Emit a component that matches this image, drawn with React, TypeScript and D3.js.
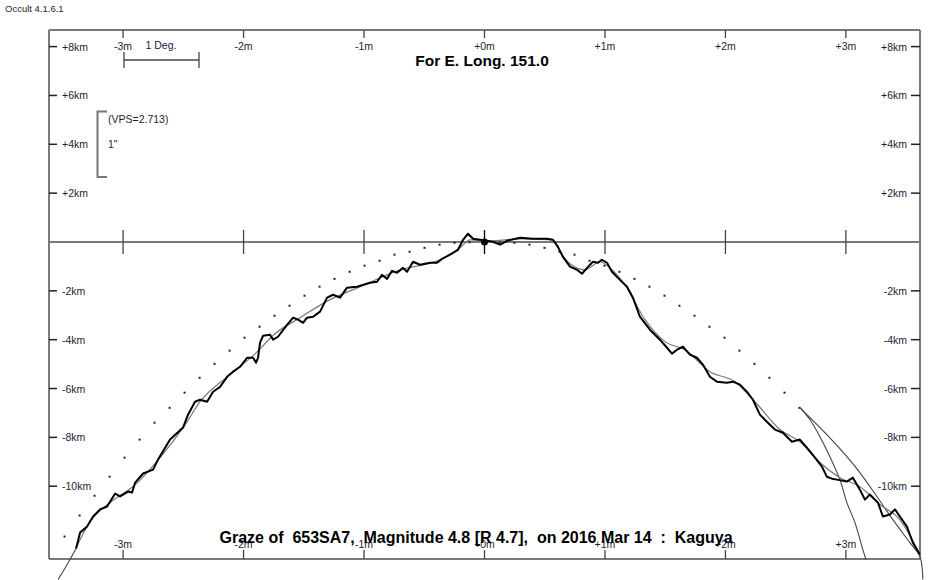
import React from 'react';
import * as d3 from 'd3';

const W = 950;
const H = 580;
const FONT = '"Liberation Sans", Arial, sans-serif';
const LABEL = '#1c1c3a';

const minuteTicks = [-3, -2, -1, 0, 1, 2, 3];
const minuteLabels = ['-3m', '-2m', '-1m', '+0m', '+1m', '+2m', '+3m'];
const kmTicks = [8, 6, 4, 2, -2, -4, -6, -8, -10];
const kmLabels = ['+8km', '+6km', '+4km', '+2km', '-2km', '-4km', '-6km', '-8km', '-10km'];

// observed limb profile (minutes from conjunction, km north/south)
const profileT = [
  -3.39, -3.357, -3.299, -3.249, -3.191, -3.133, -3.066, -3.025, -2.959, -2.925, -2.9, -2.834, -2.751, -2.71,
  -2.61, -2.502, -2.461, -2.403, -2.361, -2.303, -2.253, -2.195, -2.137, -2.087, -2.029, -1.971, -1.921, -1.896,
  -1.88, -1.863, -1.838, -1.78, -1.755, -1.714, -1.639, -1.589, -1.548, -1.506, -1.473, -1.423, -1.365, -1.307,
  -1.257, -1.199, -1.141, -1.058, -0.95, -0.892, -0.851, -0.809, -0.768, -0.726, -0.676, -0.643, -0.593, -0.535,
  -0.452, -0.394, -0.353, -0.286, -0.22, -0.178, -0.137, -0.095, -0.037, 0.071, 0.129, 0.187, 0.295, 0.402,
  0.519, 0.568, 0.61, 0.651, 0.71, 0.768, 0.809, 0.851, 0.9, 0.942, 0.975, 1.017, 1.058, 1.124, 1.183, 1.232,
  1.29, 1.373, 1.456, 1.515, 1.556, 1.598, 1.647, 1.705, 1.763, 1.813, 1.871, 1.929, 2.012, 2.062, 2.12, 2.178,
  2.228, 2.286, 2.344, 2.411, 2.477, 2.552, 2.618, 2.676, 2.743, 2.801, 2.842, 2.884, 2.925, 3.008, 3.058, 3.116,
  3.158, 3.199, 3.266, 3.307, 3.365, 3.407, 3.448, 3.506, 3.556, 3.614,
];
const profileKm = [
  -12.55, -11.9, -11.65, -11.24, -10.95, -10.83, -10.3, -10.42, -10.22, -10.26, -9.85, -9.48, -9.32, -8.91,
  -8.09, -7.6, -7.07, -6.54, -6.46, -6.54, -6.13, -5.93, -5.52, -5.31, -5.11, -4.74, -4.74, -4.94,
  -4.74, -4.12, -3.84, -3.8, -4.0, -3.88, -3.39, -3.1, -3.18, -3.31, -3.1, -3.06, -2.85, -2.28,
  -2.16, -2.28, -1.87, -1.83, -1.67, -1.63, -1.34, -1.51, -1.18, -1.26, -1.06, -1.22, -0.81, -0.93,
  -0.85, -0.85, -0.69, -0.52, -0.32, 0.09, 0.34, 0.13, 0.09, 0.01, -0.11, 0.05, 0.17, 0.13,
  0.13, 0.09, -0.2, -0.61, -1.01, -1.14, -1.3, -1.06, -0.81, -0.85, -0.73, -0.85, -1.22, -1.55, -1.83, -2.28,
  -3.06, -3.59, -4.0, -4.33, -4.57, -4.41, -4.29, -4.61, -4.74, -5.02, -5.52, -5.72, -5.76, -5.72, -5.84, -6.13,
  -6.46, -7.07, -7.36, -7.68, -7.81, -8.18, -8.09, -8.42, -8.83, -9.2, -9.61, -9.69, -9.73, -9.81, -9.65, -10.14,
  -10.55, -10.34, -10.67, -11.24, -11.16, -10.95, -11.24, -11.65, -12.31, -12.8,
];

// smoothed mean profile
const meanT = [
  -3.398, -3.274, -3.108, -2.9, -2.693, -2.485, -2.361, -2.112, -1.905, -1.739, -1.531, -1.282, -1.033, -0.701,
  -0.369, -0.203, -0.12, 0.046, 0.295, 0.568, 0.627, 0.71, 0.834, 0.959, 1.041, 1.166, 1.332, 1.498, 1.664,
  1.871, 2.079, 2.245, 2.452, 2.618, 2.784, 2.95, 3.116, 3.282, 3.448, 3.614,
];
const meanKm = [
  -12.59, -11.45, -10.67, -9.94, -8.83, -7.48, -6.54, -5.43, -4.58, -3.76, -3.1, -2.36, -1.83, -1.14,
  -0.73, -0.24, 0.09, 0.05, 0.13, 0.09, -0.4, -0.89, -1.14, -0.81, -1.06, -1.75, -3.18, -4.08, -4.41,
  -5.31, -5.72, -6.54, -7.68, -8.18, -9.03, -9.65, -10.02, -10.75, -11.37, -12.8,
];

// mean limb (dotted)
const dotT = [
  -3.486, -3.361, -3.237, -3.112, -2.988, -2.863, -2.739, -2.614, -2.49, -2.365, -2.241, -2.116, -1.992, -1.867,
  -1.743, -1.618, -1.494, -1.369, -1.245, -1.12, -0.996, -0.871, -0.747, -0.622, -0.498, -0.373, -0.249, -0.125,
  0.125, 0.249, 0.373, 0.498, 0.622, 0.747, 0.871, 0.996, 1.12, 1.245, 1.369, 1.494, 1.618, 1.743, 1.867,
  1.992, 2.116, 2.241, 2.365, 2.49, 2.614,
];
const dotKm = [
  -12.06, -11.2, -10.39, -9.61, -8.83, -8.09, -7.4, -6.79, -6.17, -5.56, -4.99, -4.45, -3.92, -3.47,
  -3.02, -2.61, -2.2, -1.83, -1.51, -1.22, -0.97, -0.77, -0.52, -0.4, -0.24, -0.11, -0.03, -0.01,
  -0.01, -0.03, -0.11, -0.24, -0.4, -0.52, -0.77, -0.97, -1.22, -1.51, -1.83, -2.2, -2.61, -3.02, -3.47,
  -3.92, -4.45, -4.99, -5.56, -6.17, -6.79,
];

// limit curves
const limitAT = [2.618, 2.701, 2.784, 2.867, 2.95, 3.008, 3.075, 3.133, 3.166];
const limitAKm = [-6.78, -7.27, -7.97, -8.79, -9.73, -10.67, -11.49, -12.47, -13.0];
const limitBT = [2.618, 2.842, 3.008, 3.116, 3.257, 3.39, 3.531, 3.614, 3.639];
const limitBKm = [-6.78, -7.89, -8.79, -9.44, -10.42, -11.37, -12.31, -12.88, -13.82];
const limitCT = [-3.39, -3.456, -3.539];
const limitCKm = [-12.55, -13.13, -13.82];

const x = d3.scaleLinear().domain([-3.615, 3.615]).range([49, 920]);
const y = d3.scaleLinear().domain([-12.98, 8.68]).range([559, 30]);

const pts = (t: number[], k: number[]) => t.map((v, i) => [v, k[i]] as [number, number]);
const line = d3.line<[number, number]>().x(d => x(d[0])).y(d => y(d[1]));
const smooth = d3.line<[number, number]>().x(d => x(d[0])).y(d => y(d[1])).curve(d3.curveMonotoneX);
const curve = d3.line<[number, number]>().x(d => x(d[0])).y(d => y(d[1])).curve(d3.curveCatmullRom);

export default function App() {
  const [x0, x1] = x.range();
  const [y0, y1] = [y(8.68), y(-12.98)];
  const yz = y(0);
  return (
    <div style={{ position: 'absolute', left: 0, top: 0 }}>
      <svg width={W} height={H} style={{ display: 'block', background: '#fff', fontFamily: FONT }}>
        <text x={5} y={12} fontSize={9.5} fill="#223">Occult 4.1.6.1</text>

        {/* frame */}
        <g stroke="#7a7a7a" strokeWidth={2} fill="none">
          <line x1={x0} y1={y0} x2={x1} y2={y0} />
          <line x1={x0} y1={y0} x2={x0} y2={y1} />
          <line x1={x1} y1={y0} x2={x1} y2={y1} />
          <line x1={x0} y1={y1} x2={x1} y2={y1} />
          <line x1={x0} y1={yz} x2={x1} y2={yz} />
        </g>

        {/* minute ticks */}
        <g stroke="#444" strokeWidth={1.3}>
          {minuteTicks.map(m => (
            <g key={m}>
              <line x1={x(m)} x2={x(m)} y1={y0} y2={y0 + 8} />
              <line x1={x(m)} x2={x(m)} y1={y1} y2={y1 - 9} />
              {m !== 0 && <line x1={x(m)} x2={x(m)} y1={yz - 12} y2={yz + 12} />}
            </g>
          ))}
        </g>
        {/* km ticks */}
        <g stroke="#222" strokeWidth={1.5}>
          {kmTicks.map(k => (
            <g key={k}>
              <line x1={x0} x2={x0 + 8} y1={y(k)} y2={y(k)} />
              <line x1={x1 - 9} x2={x1} y1={y(k)} y2={y(k)} />
            </g>
          ))}
        </g>

        <g fontSize={10.5} fill={LABEL}>
          {minuteTicks.map((m, i) => (
            <text key={'t' + m} x={x(m)} y={y0 + 20} textAnchor="middle">{minuteLabels[i]}</text>
          ))}
          {minuteTicks.map((m, i) => (
            <text key={'b' + m} x={x(m)} y={y1 - 11} textAnchor="middle">{minuteLabels[i]}</text>
          ))}
          {kmTicks.map((k, i) => (
            <text key={'l' + k} x={x0 + 13} y={y(k) + 4}>{kmLabels[i]}</text>
          ))}
          {kmTicks.map((k, i) => (
            <text key={'r' + k} x={x1 - 13} y={y(k) + 4} textAnchor="end">{kmLabels[i]}</text>
          ))}
        </g>

        {/* 1 degree scale */}
        <g stroke="#444" strokeWidth={1.3}>
          <line x1={124} x2={199} y1={60} y2={60} />
          <line x1={124} x2={124} y1={52} y2={68} />
          <line x1={199} x2={199} y1={52} y2={68} />
        </g>
        <text x={161} y={49} fontSize={10.5} fill={LABEL} textAnchor="middle">1 Deg.</text>

        {/* VPS bracket */}
        <path d="M107,111.5 H97.5 V177 H107" stroke="#777" strokeWidth={2} fill="none" />
        <text x={108} y={123} fontSize={10.5} fill={LABEL}>(VPS=2.713)</text>
        <text x={108} y={148} fontSize={10.5} fill={LABEL}>1"</text>

        {/* mean limb dots */}
        <g fill="#222">
          {pts(dotT, dotKm).map((d, i) => (
            <rect key={i} x={x(d[0]) - 1} y={y(d[1]) - 1} width={2} height={2} />
          ))}
        </g>

        {/* limit curves */}
        <g stroke="#444" strokeWidth={1.1} fill="none">
          <path d={curve(pts(limitAT, limitAKm)) || ''} />
          <path d={curve(pts(limitBT, limitBKm)) || ''} />
          <path d={curve(pts(limitCT, limitCKm)) || ''} />
        </g>

        <path d={smooth(pts(meanT, meanKm)) || ''} stroke="#777" strokeWidth={1.2} fill="none" />
        <path d={line(pts(profileT, profileKm)) || ''} stroke="#000" strokeWidth={2} fill="none"
          strokeLinejoin="round" />

        {/* star position */}
        <line x1={x(0)} x2={x(0)} y1={yz - 12} y2={yz + 12} stroke="#000" strokeWidth={1.3} />
        <circle cx={x(0)} cy={yz} r={3.5} fill="#000" />

        <text x={482} y={66} fontSize={15.5} fontWeight="bold" textAnchor="middle" fill="#000">For E. Long. 151.0</text>
        <text x={476} y={543} fontSize={16} fontWeight="bold" textAnchor="middle" fill="#000"
          style={{ whiteSpace: 'pre' }}>
          {'Graze of  653SA7,  Magnitude 4.8 [R 4.7],  on 2016 Mar 14  :  Kaguya'}
        </text>
      </svg>
    </div>
  );
}
